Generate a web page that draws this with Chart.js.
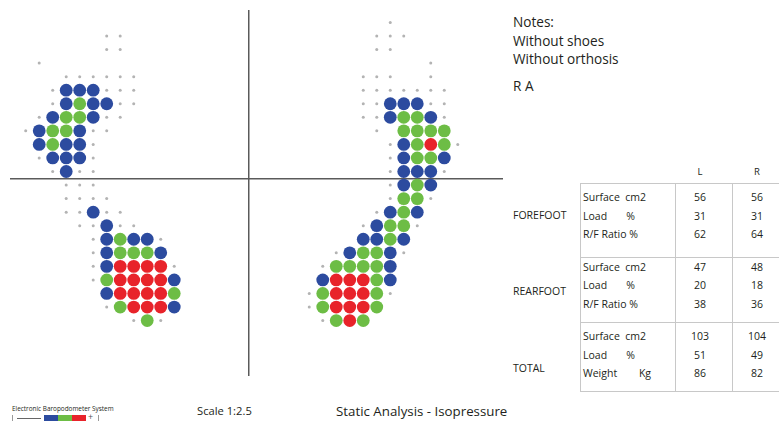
<!DOCTYPE html>
<html>
<head>
<meta charset="utf-8">
<script src="https://cdn.jsdelivr.net/npm/chart.js@4"></script>
<style>
  html, body { margin: 0; padding: 0; background: #fff; }
  body { width: 779px; height: 423px; position: relative; overflow: hidden;
         font-family: "Open Sans", "Noto Sans", sans-serif; color: #231f20; }
  .abs { position: absolute; white-space: pre; }
  #plate { position: absolute; left: 10px; top: 10px; width: 493px; height: 366px; }
  .notes { font-size: 13.6px; line-height: 18px; }
  .tbl { font-size: 10.5px; line-height: 18px; height: 18px; }
  .hline { position: absolute; height: 0; border-top: 1.5px solid #c8c8c8; }
  .vline { position: absolute; width: 0; border-left: 1.5px solid #c8c8c8; }
</style>
</head>
<body>
<div id="plate"><canvas id="baro"></canvas></div>
<div id="info"></div>
<script>
// sensor matrix per foot, one string per row (top to bottom)
// ' ' no sensor, '.' idle sensor, 'b' low, 'g' medium, 'r' high pressure
const leftFoot = [
  '            ',
  '      ..    ',
  '      ..    ',
  ' .          ',
  '   ......   ',
  '  .bbb...   ',
  '  .bgbb..   ',
  ' .bggb..    ',
  '.bggb..     ',
  ' bgbb.      ',
  ' .bbb.      ',
  '  .b..      ',
  '   ...      ',
  '   ....     ',
  '   ..b..    ',
  '    ..b..   ',
  '     .bgbb. ',
  '     .bgggb ',
  '     .brrrr.',
  '     .grrrrb',
  '      brrrrg',
  '      .grrrb',
  '        .g. '
];
const rightFoot = [
  '      .     ',
  '     ...    ',
  '     ..     ',
  '         .  ',
  '    ...  .  ',
  '    ....... ',
  '    ..bbb.. ',
  '    ..bggb. ',
  '     . gggg ',
  '      .bgrg.',
  '      .bggb ',
  '      .bbb. ',
  '      .bgb  ',
  '      .gg.  ',
  '     .bgb   ',
  '    .bgg.   ',
  '    bbgb    ',
  '  .bggb.    ',
  ' .ggggb     ',
  ' brrrgb     ',
  '.grrrg.     ',
  '.grrrg      ',
  ' .grg       '
];
const feet = [leftFoot, rightFoot];
const footFirstColumn = [0, 21];

const notes = ['Notes:', 'Without shoes', 'Without orthosis'];
const patient = 'R A';

const sides = ['L', 'R'];
const sections = ['FOREFOOT', 'REARFOOT', 'TOTAL'];
const rowLabels = [
  ['Surface  cm2', 'Load       %', 'R/F Ratio %'],
  ['Surface  cm2', 'Load       %', 'R/F Ratio %'],
  ['Surface  cm2', 'Load       %', 'Weight        Kg']
];
const valuesL = [[56, 31, 62], [47, 20, 38], [103, 51, 86]];
const valuesR = [[56, 31, 64], [48, 18, 36], [104, 49, 82]];

const systemName = 'Electronic Baropodometer System';
const scaleText = 'Scale 1:2.5';
const analysisTitle = 'Static Analysis - Isopressure';

const levels = [
  { code: '.', label: 'sensor', color: '#b3b3b3', radius: 1.5 },
  { code: 'b', label: 'low',    color: '#2c4b9f', radius: 6.4 },
  { code: 'g', label: 'medium', color: '#6dbd45', radius: 6.4 },
  { code: 'r', label: 'high',   color: '#e8232a', radius: 6.4 }
];

function pontosDoNivel(code) {
  const pts = [];
  feet.forEach((foot, f) => {
    foot.forEach((row, r) => {
      for (let c = 0; c < row.length; c++) {
        if (row[c] === code) pts.push({ x: footFirstColumn[f] + c, y: r });
      }
    });
  });
  return pts;
}

new Chart(document.getElementById('baro'), {
  type: 'scatter',
  data: {
    datasets: levels.map(l => ({
      label: l.label,
      data: pontosDoNivel(l.code),
      pointRadius: l.radius,
      pointBackgroundColor: l.color,
      pointBorderWidth: 0,
      pointHoverRadius: l.radius,
      clip: false
    }))
  },
  options: {
    responsive: true,
    maintainAspectRatio: false,
    devicePixelRatio: 1,
    animation: false,
    layout: { padding: 0, autoPadding: false },
    plugins: { legend: { display: false }, tooltip: { enabled: false } },
    scales: {
      x: {
        type: 'linear', min: -1.163, max: 35.35,
        position: { y: 11.53 },
        ticks: { display: false },
        grid: { display: false, drawTicks: false },
        border: { display: true, color: '#5a5a5a', width: 1.5 }
      },
      y: {
        type: 'linear', reverse: true, min: -0.919, max: 26.09,
        position: { x: 16.54 },
        ticks: { display: false },
        grid: { display: false, drawTicks: false },
        border: { display: true, color: '#5a5a5a', width: 1.5 }
      }
    }
  }
});

// texto lateral e tabela
const info = document.getElementById('info');
function texto(str, left, top, cls, extra) {
  const d = document.createElement('div');
  d.className = 'abs ' + (cls || '');
  d.textContent = str;
  d.style.left = left + 'px';
  d.style.top = top + 'px';
  if (extra) Object.assign(d.style, extra);
  info.appendChild(d);
  return d;
}
function linha(cls, left, top, size) {
  const d = document.createElement('div');
  d.className = cls;
  d.style.left = left + 'px';
  d.style.top = top + 'px';
  if (cls === 'hline') d.style.width = size + 'px'; else d.style.height = size + 'px';
  info.appendChild(d);
}

notes.forEach((n, i) => texto(n, 513, 13 + i * 18.5, 'notes'));
texto(patient, 513, 77, 'notes');

const colCenters = [700, 757];
sides.forEach((s, i) => texto(s, colCenters[i] - 20, 163, 'tbl', { width: '40px', textAlign: 'center', fontSize: '9.5px' }));

const groupTop = [188, 257.5, 327];
const sectionCenter = [215, 291, 368];
sections.forEach((sec, g) => {
  texto(sec, 513, sectionCenter[g] - 9, 'tbl');
  rowLabels[g].forEach((lab, r) => {
    const top = groupTop[g] + r * 18.6;
    texto(lab, 583, top, 'tbl');
    texto(String(valuesL[g][r]), colCenters[0] - 20, top, 'tbl', { width: '40px', textAlign: 'center' });
    texto(String(valuesR[g][r]), colCenters[1] - 20, top, 'tbl', { width: '40px', textAlign: 'center' });
  });
});

// bordas da tabela
linha('hline', 580, 182.5, 210);
linha('hline', 580, 256.5, 210);
linha('hline', 580, 321.5, 210);
linha('hline', 580, 390.5, 210);
linha('vline', 580, 182.5, 209);
linha('vline', 675, 182.5, 209);
linha('vline', 732, 182.5, 209);

// rodape
texto(systemName, 12, 405, '', { fontSize: '6.4px', lineHeight: '8px' });
texto(scaleText, 197, 403, '', { fontSize: '11.2px', lineHeight: '16px' });
texto(analysisTitle, 336, 402, '', { fontSize: '13.3px', lineHeight: '18px' });

const bar = document.createElement('div');
bar.style.cssText = 'position:absolute;left:12px;top:415px;width:85px;height:6px;border:1px solid #9a9a9a;border-width:0 1px;';
info.appendChild(bar);
const dash = document.createElement('div');
dash.style.cssText = 'position:absolute;left:4px;top:2.5px;width:24px;height:0;border-top:1px solid #666;';
bar.appendChild(dash);
levels.slice(1).forEach((l, i) => {
  const b = document.createElement('div');
  b.style.cssText = 'position:absolute;top:0;height:6px;width:14px;';
  b.style.left = (31 + i * 14) + 'px';
  b.style.background = l.color;
  bar.appendChild(b);
});
const plus = document.createElement('div');
plus.textContent = '+';
plus.style.cssText = 'position:absolute;left:75px;top:-3px;font-size:9px;line-height:10px;color:#555;';
bar.appendChild(plus);
</script>
</body>
</html>
